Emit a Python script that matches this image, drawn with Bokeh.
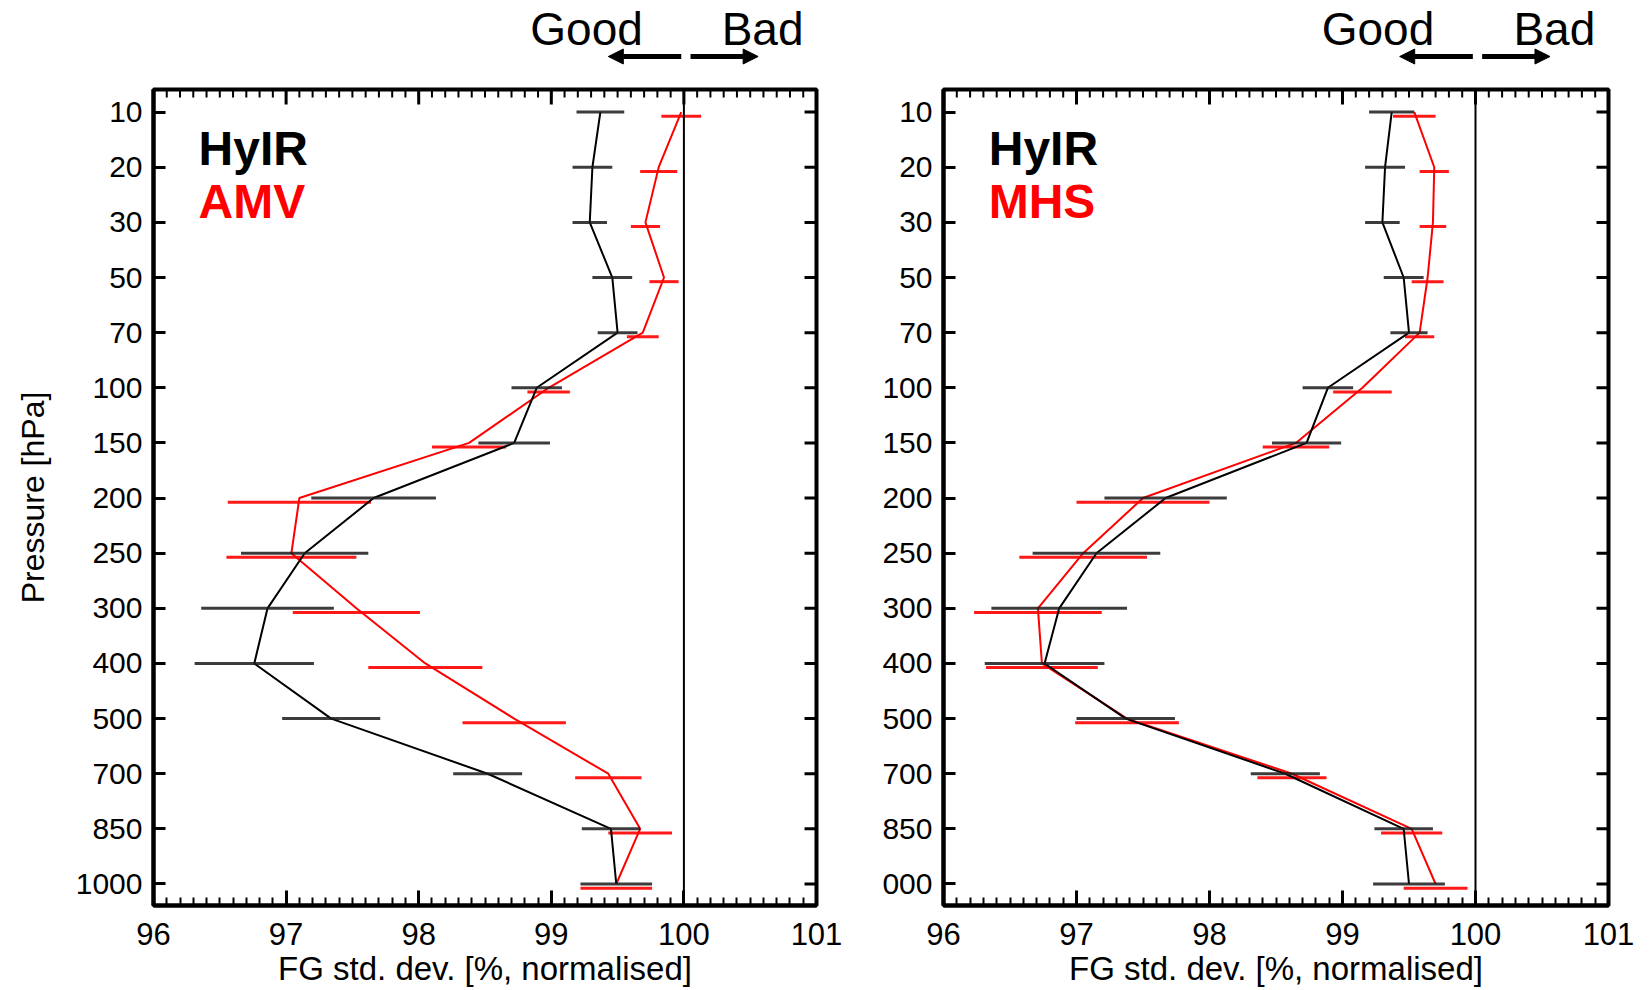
from bokeh.plotting import figure
from bokeh.layouts import row, column
from bokeh.models import (Range1d, FixedTicker, Span, Label, Arrow,
                          NormalHead, ColumnDataSource)
from bokeh.core.properties import value
from bokeh.embed import file_html
from bokeh.resources import INLINE

# ---------------- data ----------------
levels = ["10", "20", "30", "50", "70", "100", "150", "200", "250", "300",
          "400", "500", "700", "850", "1000"]
levels_right = ["10", "20", "30", "50", "70", "100", "150", "200", "250", "300",
                "400", "500", "700", "850", "000"]
x_ticks = [96, 97, 98, 99, 100, 101]

hyir_left = [99.37, 99.31, 99.29, 99.46, 99.50, 98.89, 98.72, 97.66, 97.14, 96.86,
             96.76, 97.34, 98.52, 99.45, 99.49]
hyir_left_err = [0.18, 0.15, 0.13, 0.15, 0.15, 0.19, 0.27, 0.47, 0.48, 0.50,
                 0.45, 0.37, 0.26, 0.22, 0.27]
amv = [99.98, 99.81, 99.71, 99.85, 99.69, 98.98, 98.38, 97.10, 97.04, 97.53,
       98.05, 98.72, 99.43, 99.67, 99.49]
amv_err = [0.15, 0.14, 0.11, 0.11, 0.12, 0.16, 0.28, 0.54, 0.49, 0.48,
           0.43, 0.39, 0.25, 0.24, 0.27]

hyir_right = [99.37, 99.32, 99.30, 99.46, 99.50, 98.89, 98.73, 97.67, 97.15, 96.87,
              96.76, 97.37, 98.57, 99.46, 99.50]
hyir_right_err = [0.17, 0.15, 0.13, 0.15, 0.14, 0.19, 0.26, 0.46, 0.48, 0.51,
                  0.45, 0.37, 0.26, 0.22, 0.27]
mhs = [99.54, 99.69, 99.68, 99.64, 99.58, 99.15, 98.65, 97.50, 97.05, 96.71,
       96.74, 97.38, 98.62, 99.52, 99.70]
mhs_err = [0.16, 0.11, 0.10, 0.12, 0.11, 0.22, 0.25, 0.50, 0.48, 0.48,
           0.42, 0.39, 0.26, 0.23, 0.24]

FONT = "Liberation Sans"
RED = "#ff0000"
X0, X1 = 96, 101
Y_BOTTOM, Y_TOP = 14.39, -0.41
ROW_PX = 55.13      # pixel height of one pressure row
UNIT_PX = 133.0     # pixel width of one x unit
HEADER_H = 80


def style_axis(ax, ticks_major, ticks_minor):
    ax.axis_line_color = "black"
    ax.axis_line_width = 4
    ax.major_tick_line_color = "black"
    ax.major_tick_line_width = 3
    ax.major_tick_in = ticks_major
    ax.major_tick_out = 0
    ax.minor_tick_line_color = "black" if ticks_minor else None
    ax.minor_tick_line_width = 2
    ax.minor_tick_in = ticks_minor
    ax.minor_tick_out = 0
    ax.major_label_text_font = FONT
    ax.major_label_text_color = "black"
    ax.axis_label_text_font = FONT
    ax.axis_label_text_font_style = "normal"
    ax.axis_label_text_color = "black"


def make_header(width, mbl, mbr):
    h = figure(width=width, height=HEADER_H, output_backend="svg", toolbar_location=None,
               x_range=Range1d(X0, X1), y_range=Range1d(0, HEADER_H),
               min_border_left=mbl, min_border_right=mbr,
               min_border_top=0, min_border_bottom=0,
               x_axis_location=None, y_axis_location=None)
    h.outline_line_color = None
    h.background_fill_color = "white"
    h.border_fill_color = "white"
    h.grid.visible = False
    h.text(x=[99.69], y=[HEADER_H - 28], text=["Good"], text_font=value(FONT),
           text_font_size="46px", text_color="black", text_align="right",
           text_baseline="alphabetic")
    h.text(x=[100.285], y=[HEADER_H - 28], text=["Bad"], text_font=value(FONT),
           text_font_size="46px", text_color="black", text_align="left",
           text_baseline="alphabetic")
    h.add_layout(Arrow(end=NormalHead(size=15, fill_color="black", line_color="black"),
                       x_start=99.98, y_start=HEADER_H - 56, x_end=99.43,
                       y_end=HEADER_H - 56, line_width=5, line_color="black"))
    h.add_layout(Arrow(end=NormalHead(size=15, fill_color="black", line_color="black"),
                       x_start=100.05, y_start=HEADER_H - 56, x_end=100.56,
                       y_end=HEADER_H - 56, line_width=5, line_color="black"))
    return h


def make_panel(hyir, hyir_err, other, other_err, other_name, ylabels,
               width, mbl, mbr, ylabel):
    ys = list(range(len(ylabels)))
    p = figure(width=width, height=990 - HEADER_H, output_backend="svg",
               toolbar_location=None,
               x_range=Range1d(X0, X1), y_range=Range1d(Y_BOTTOM, Y_TOP),
               min_border_left=mbl, min_border_right=mbr,
               min_border_top=89 - HEADER_H, min_border_bottom=85)
    p.background_fill_color = "white"
    p.border_fill_color = "white"
    p.outline_line_color = "black"
    p.outline_line_width = 4
    p.grid.visible = False

    minor = [X0 + 0.1 * k for k in range(51)]
    xt = FixedTicker(ticks=x_ticks, minor_ticks=minor)
    yt = FixedTicker(ticks=ys)

    xa = p.xaxis[0]
    xa.ticker = xt
    style_axis(xa, 15, 8)
    xa.major_label_text_font_size = "31px"
    xa.major_label_standoff = 17
    xa.axis_label = "FG std. dev. [%, normalised]"
    xa.axis_label_text_font_size = "33px"
    xa.axis_label_standoff = 2

    ya = p.yaxis[0]
    ya.ticker = yt
    ya.major_label_overrides = {i: lab for i, lab in zip(ys, ylabels)}
    style_axis(ya, 12, 0)
    ya.major_label_text_font_size = "30px"
    ya.major_label_standoff = 11
    if ylabel:
        ya.axis_label = ylabel
        ya.axis_label_text_font_size = "32px"
        ya.axis_label_standoff = 22

    # mirrored inner ticks on top and right edges of the frame
    maj_len = 15 / ROW_PX
    min_len = 8 / ROW_PX
    p.segment(x0=x_ticks, x1=x_ticks, y0=[Y_TOP] * len(x_ticks),
              y1=[Y_TOP + maj_len] * len(x_ticks), line_color="black", line_width=3)
    p.segment(x0=minor, x1=minor, y0=[Y_TOP] * len(minor),
              y1=[Y_TOP + min_len] * len(minor), line_color="black", line_width=2)
    r_len = 12 / UNIT_PX
    p.segment(x0=[X1] * len(ys), x1=[X1 - r_len] * len(ys), y0=ys, y1=ys,
              line_color="black", line_width=3)

    p.add_layout(Span(location=100, dimension="height", line_color="black",
                      line_width=2))

    # comparison series (red): line + error bars slightly offset below
    p.line(other, ys, line_color=RED, line_width=2)
    src_o = ColumnDataSource(dict(
        x0=[v - e for v, e in zip(other, other_err)],
        x1=[v + e for v, e in zip(other, other_err)],
        y=[y + 0.075 for y in ys]))
    p.segment(x0="x0", x1="x1", y0="y", y1="y", source=src_o,
              line_color=RED, line_width=3, line_alpha=0.9)

    # HyIR (black)
    p.line(hyir, ys, line_color="black", line_width=2)
    src_h = ColumnDataSource(dict(
        x0=[v - e for v, e in zip(hyir, hyir_err)],
        x1=[v + e for v, e in zip(hyir, hyir_err)],
        y=ys))
    p.segment(x0="x0", x1="x1", y0="y", y1="y", source=src_h,
              line_color="#1a1a1a", line_width=3, line_alpha=0.85)

    # in-panel labels
    p.add_layout(Label(x=96.34, y=0.66, text="HyIR", text_font=FONT,
                       text_font_size="48px", text_font_style="bold",
                       text_color="black", text_baseline="alphabetic"))
    p.add_layout(Label(x=96.34, y=1.63, text=other_name, text_font=FONT,
                       text_font_size="48px", text_font_style="bold",
                       text_color=RED, text_baseline="alphabetic"))
    return p


h_left = make_header(860, 153, 44)
p_left = make_panel(hyir_left, hyir_left_err, amv, amv_err, "AMV", levels,
                    860, 153, 44, "Pressure [hPa]")
h_right = make_header(791, 83, 43)
p_right = make_panel(hyir_right, hyir_right_err, mhs, mhs_err, "MHS", levels_right,
                     791, 83, 43, None)

layout = row(column(h_left, p_left, spacing=0), column(h_right, p_right, spacing=0),
             spacing=0)
open("out.html", "w").write(file_html(layout, INLINE))
